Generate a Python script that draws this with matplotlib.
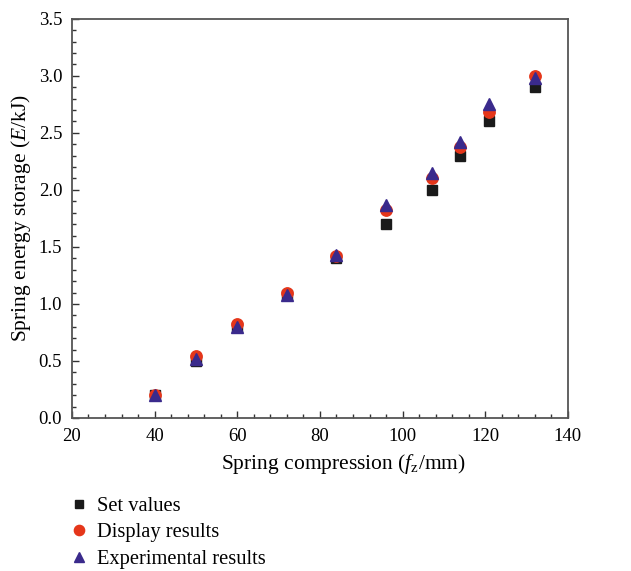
import numpy as np
import matplotlib
matplotlib.use("Agg")
from matplotlib import pyplot as plt

plt.rcParams['font.family'] = ['Liberation Serif', 'DejaVu Serif']
plt.rcParams['mathtext.fontset'] = 'custom'
plt.rcParams['mathtext.rm'] = 'Liberation Serif'
plt.rcParams['mathtext.it'] = 'Liberation Serif:italic'

# spring compression f_z (mm)
compression = [40, 50, 60, 72, 84, 96, 107, 114, 121, 132]
set_values = [0.20, 0.50, 0.80, 1.08, 1.40, 1.70, 2.00, 2.30, 2.60, 2.90]
display_results = [0.20, 0.54, 0.82, 1.10, 1.42, 1.82, 2.10, 2.38, 2.68, 3.00]
experimental_results = [0.20, 0.52, 0.80, 1.08, 1.43, 1.87, 2.15, 2.42, 2.75, 2.98]

SPINE = '#555555'

fig = plt.figure(figsize=(6.31, 5.71), dpi=100)
ax = fig.add_axes([0.114, 0.268, 0.786, 0.699])

ax.plot(compression, set_values, 's', color='#1a1a1a', ms=6.8, ls='none',
        label='Set values', zorder=3)
ax.plot(compression, display_results, 'o', color='#e5361a', ms=8.2, ls='none',
        label='Display results', zorder=4)
ax.plot(compression, experimental_results, '^', color='#3a2a8c', ms=8.2, ls='none',
        label='Experimental results', zorder=5)

ax.set_xlim(20, 140)
ax.set_ylim(0, 3.5)
ax.set_xticks(np.arange(20, 141, 20))
ax.set_xticks(np.arange(20, 141, 4), minor=True)
ax.set_yticks(np.arange(0, 3.51, 0.5))
ax.set_yticks(np.arange(0, 3.51, 0.1), minor=True)
ax.yaxis.set_major_formatter(matplotlib.ticker.FormatStrFormatter('%.1f'))

ax.tick_params(which='both', direction='in', top=False, right=False,
               color='#333333', labelsize=13.5)
ax.tick_params(axis='x', which='both', pad=7)
ax.tick_params(axis='y', which='both', pad=7)
ax.tick_params(which='major', length=5, width=1)
ax.tick_params(which='minor', length=3, width=1)
for s in ax.spines.values():
    s.set_color(SPINE)
    s.set_linewidth(1.3)

ax.set_xlabel(r'Spring compression ($\mathit{f}_{\mathrm{z}}$/mm)', fontsize=15.5,
              labelpad=5, x=0.548)
ax.set_ylabel(r'Spring energy storage ($\mathit{E}$/kJ)', fontsize=15.5, labelpad=4)

# legend sits under the axes, no frame
fig.legend(loc='upper left', bbox_to_anchor=(0.099, 0.141), frameon=False,
           fontsize=14.8, handletextpad=0.38, labelspacing=0.34,
           handlelength=1.0, borderaxespad=0, borderpad=0.3, markerscale=0.9)

fig.savefig('out.png', dpi=100)
